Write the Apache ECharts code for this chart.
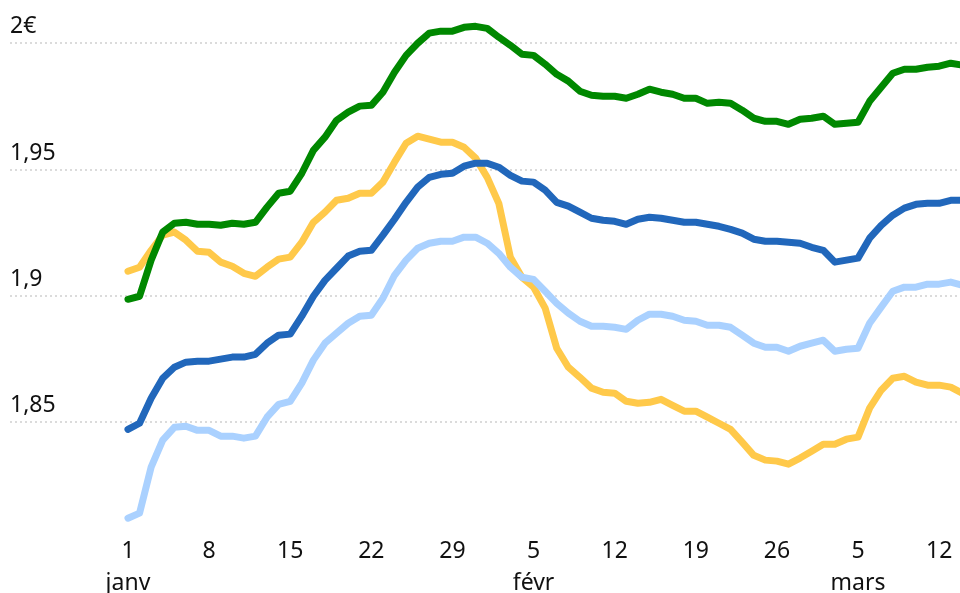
<!DOCTYPE html>
<html>
<head>
<meta charset="utf-8">
<script src="https://cdn.jsdelivr.net/npm/echarts@6/dist/echarts.min.js"></script>
<style>
  html, body { margin: 0; padding: 0; background: #fff; }
  #chart { width: 960px; height: 593px; }
</style>
</head>
<body>
<div id="chart"></div>
<script>
// jours depuis le 1er janvier
var days = [1, 2, 3, 4, 5, 6, 7, 8, 9, 10, 11, 12, 13, 14, 15, 16, 17, 18, 19, 20,
  21, 22, 23, 24, 25, 26, 27, 28, 29, 30, 31, 32, 33, 34, 35, 36, 37, 38, 39, 40,
  41, 42, 43, 44, 45, 46, 47, 48, 49, 50, 51, 52, 53, 54, 55, 56, 57, 58, 59, 60,
  61, 62, 63, 64, 65, 66, 67, 68, 69, 70, 71, 72, 73]

var sp98 = [1.8986, 1.8998, 1.9141, 1.9252, 1.9287, 1.9291, 1.9283, 1.9283, 1.9279, 1.9287,
  1.9283, 1.9291, 1.9351, 1.9406, 1.9414, 1.9485, 1.9576, 1.9628, 1.9695, 1.9727,
  1.9751, 1.9754, 1.9806, 1.9885, 1.9952, 2.0000, 2.0040, 2.0048, 2.0048, 2.0063,
  2.0067, 2.0059, 2.0024, 1.9992, 1.9956, 1.9952, 1.9917, 1.9877, 1.9850, 1.9810,
  1.9794, 1.9790, 1.9790, 1.9782, 1.9798, 1.9818, 1.9806, 1.9798, 1.9782, 1.9782,
  1.9762, 1.9766, 1.9762, 1.9735, 1.9703, 1.9691, 1.9691, 1.9679, 1.9699, 1.9703,
  1.9711, 1.9679, 1.9683, 1.9687, 1.9770, 1.9826, 1.9881, 1.9897, 1.9897, 1.9905,
  1.9909, 1.9921, 1.9913]

var gazole = [1.9097, 1.9113, 1.9180, 1.9240, 1.9252, 1.9220, 1.9176, 1.9172, 1.9133, 1.9117,
  1.9089, 1.9077, 1.9113, 1.9145, 1.9153, 1.9212, 1.9291, 1.9331, 1.9378, 1.9386,
  1.9406, 1.9406, 1.9450, 1.9529, 1.9604, 1.9632, 1.9620, 1.9608, 1.9608, 1.9588,
  1.9545, 1.9469, 1.9366, 1.9153, 1.9073, 1.9034, 1.8951, 1.8792, 1.8717, 1.8677,
  1.8634, 1.8618, 1.8614, 1.8582, 1.8574, 1.8578, 1.8590, 1.8566, 1.8543, 1.8543,
  1.8519, 1.8495, 1.8471, 1.8420, 1.8368, 1.8349, 1.8345, 1.8333, 1.8357, 1.8384,
  1.8412, 1.8412, 1.8432, 1.8440, 1.8555, 1.8626, 1.8673, 1.8681, 1.8658, 1.8646,
  1.8646, 1.8638, 1.8614]

var sp95 = [1.8471, 1.8495, 1.8594, 1.8673, 1.8717, 1.8737, 1.8741, 1.8741, 1.8749, 1.8757,
  1.8757, 1.8768, 1.8812, 1.8844, 1.8848, 1.8919, 1.8998, 1.9061, 1.9109, 1.9157,
  1.9176, 1.9180, 1.9240, 1.9303, 1.9370, 1.9430, 1.9469, 1.9481, 1.9485, 1.9513,
  1.9525, 1.9525, 1.9509, 1.9477, 1.9454, 1.9450, 1.9418, 1.9370, 1.9355, 1.9331,
  1.9307, 1.9299, 1.9295, 1.9283, 1.9303, 1.9311, 1.9307, 1.9299, 1.9291, 1.9291,
  1.9283, 1.9275, 1.9263, 1.9248, 1.9224, 1.9216, 1.9216, 1.9212, 1.9208, 1.9192,
  1.9180, 1.9133, 1.9141, 1.9149, 1.9228, 1.9279, 1.9319, 1.9347, 1.9362, 1.9366,
  1.9366, 1.9378, 1.9378]

var e10 = [1.8119, 1.8139, 1.8321, 1.8428, 1.8479, 1.8483, 1.8467, 1.8467, 1.8444, 1.8444,
  1.8436, 1.8444, 1.8519, 1.8570, 1.8582, 1.8654, 1.8745, 1.8812, 1.8852, 1.8891,
  1.8919, 1.8923, 1.8990, 1.9081, 1.9141, 1.9188, 1.9208, 1.9216, 1.9216, 1.9232,
  1.9232, 1.9208, 1.9168, 1.9113, 1.9073, 1.9065, 1.9018, 1.8970, 1.8931, 1.8899,
  1.8879, 1.8879, 1.8875, 1.8867, 1.8903, 1.8927, 1.8927, 1.8919, 1.8903, 1.8899,
  1.8883, 1.8883, 1.8875, 1.8844, 1.8812, 1.8796, 1.8796, 1.8780, 1.8800, 1.8812,
  1.8824, 1.8780, 1.8788, 1.8792, 1.8891, 1.8955, 1.9018, 1.9034, 1.9034, 1.9046,
  1.9046, 1.9054, 1.9042]

// graduations
var tickDays = [1, 8, 15, 22, 29, 36, 43, 50, 57, 64, 71]
var tickLabels = ['1\njanv', '8', '15', '22', '29', '5\nfévr', '12', '19', '26', '5\nmars', '12']
var yTicks = [1.85, 1.9, 1.95, 2]
var yLabels = ['1,85', '1,9', '1,95', '2€']

function pairs(vals) {
  return days.map(function (d, i) { return [d, vals[i]] })
}

function line(name, color, vals) {
  return {
    name: name,
    type: 'line',
    data: pairs(vals),
    showSymbol: false,
    symbol: 'none',
    smooth: false,
    animation: false,
    lineStyle: { color: color, width: 7, cap: 'round', join: 'round' }
  }
}

var chart = echarts.init(document.getElementById('chart'))
chart.setOption({
  animation: false,
  grid: { left: 10, right: 0, top: 18, bottom: 70, outerBoundsMode: 'none' },
  xAxis: {
    type: 'value',
    min: -9.18,
    max: 72.8,
    axisLine: { show: false },
    axisTick: { show: false },
    splitLine: { show: false },
    axisLabel: {
      customValues: tickDays,
      margin: 12,
      color: '#111',
      fontFamily: 'Noto Sans',
      fontSize: 23,
      lineHeight: 32,
      formatter: function (v) {
        var i = tickDays.indexOf(v)
        return i >= 0 ? tickLabels[i] : ''
      }
    }
  },
  yAxis: {
    type: 'value',
    min: 1.81,
    max: 2.01,
    splitNumber: 4,
    axisLine: { show: false },
    axisTick: { show: false },
    splitLine: {
      showMinLine: false,
      showMaxLine: false,
      lineStyle: { color: '#cfcfcf', width: 1.5, type: [2, 3] }
    },
    axisLabel: {
      inside: true,
      showMinLabel: false,
      showMaxLabel: false,
      margin: 0,
      verticalAlign: 'bottom',
      padding: [0, 0, 5, 0],
      color: '#111',
      fontFamily: 'Noto Sans',
      fontSize: 23,
      formatter: function (v) {
        for (var i = 0; i < yTicks.length; i++) {
          if (Math.abs(v - yTicks[i]) < 1e-6) return yLabels[i]
        }
        return ''
      }
    }
  },
  series: [
    line('Gazole', '#ffc94a', gazole),
    line('E10', '#aad1ff', e10),
    line('SP95', '#2167bb', sp95),
    line('SP98', '#008800', sp98)
  ]
})
</script>
</body>
</html>
